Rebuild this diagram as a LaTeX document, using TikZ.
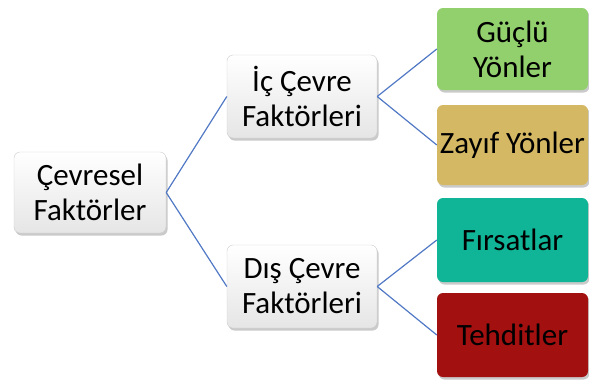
\documentclass[tikz,border=0pt]{standalone}
\usepackage{fontspec}
\setmainfont{Carlito}
\usetikzlibrary{shadows}
\definecolor{cgreen}{RGB}{146,208,110}
\definecolor{cgold}{RGB}{213,184,100}
\definecolor{cteal}{RGB}{16,180,150}
\definecolor{cred}{RGB}{162,16,16}
\definecolor{cline}{RGB}{80,120,196}
\tikzset{
  base/.style={rounded corners=6pt, align=center, inner sep=0pt,
    font=\fontsize{31}{35}\selectfont,
    drop shadow={shadow xshift=1.5pt, shadow yshift=-2.5pt, opacity=0.35, fill=black!60}},
  whitebox/.style={base, draw=black!20, line width=0.4pt, top color=white, bottom color=black!10},
  colbox/.style={base, fill=#1},
  conn/.style={draw=cline, line width=1.2pt}
}
\begin{document}
\begin{tikzpicture}[x=1pt,y=-1pt]
\useasboundingbox (0,0) rectangle (589,381);
\node[whitebox, minimum width=152pt, minimum height=81pt] (root) at (90,192.5) {Çevresel\\Faktörler};
\node[whitebox, minimum width=150pt, minimum height=83pt] (ic) at (302,96.5) {İç Çevre\\Faktörleri};
\node[whitebox, minimum width=150pt, minimum height=83pt] (dis) at (302,286.5) {Dış Çevre\\Faktörleri};
\node[colbox=cgreen, minimum width=151pt, minimum height=82pt] (g) at (512.5,49) {Güçlü\\Yönler};
\node[colbox=cgold, minimum width=151pt, minimum height=80pt] (z) at (512.5,145) {Zayıf Yönler};
\node[colbox=cteal, minimum width=151pt, minimum height=84pt] (f) at (512.5,240) {Fırsatlar};
\node[colbox=cred, minimum width=151pt, minimum height=84pt] (t) at (512.5,335) {Tehditler};
\draw[conn] (root.east) -- (ic.west);
\draw[conn] (root.east) -- (dis.west);
\draw[conn] (ic.east) -- (g.west);
\draw[conn] (ic.east) -- (z.west);
\draw[conn] (dis.east) -- (f.west);
\draw[conn] (dis.east) -- (t.west);
\end{tikzpicture}
\end{document}
